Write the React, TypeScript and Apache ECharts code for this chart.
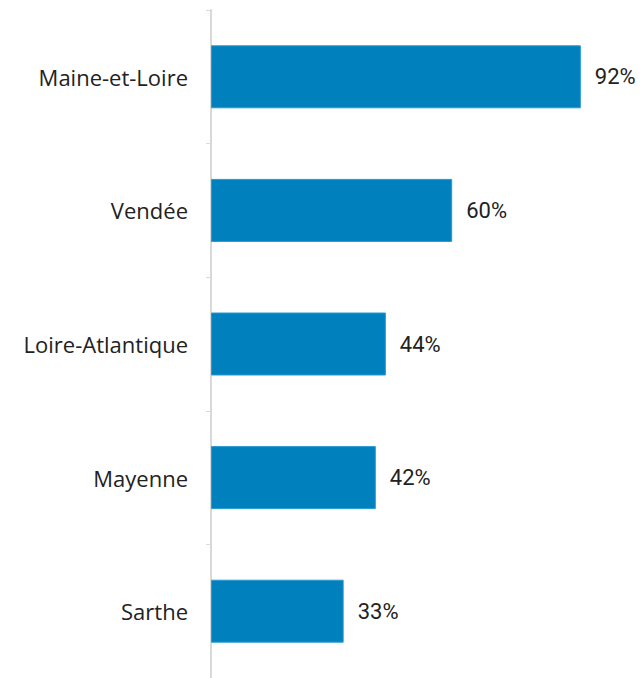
import React, { useEffect, useRef } from "react";
import * as echarts from "echarts";

const categories = ["Maine-et-Loire", "Vendée", "Loire-Atlantique", "Mayenne", "Sarthe"];
const values = [92, 60, 43.5, 41, 33];
const valueLabels = ["92%", "60%", "44%", "42%", "33%"];

export default function App() {
  const ref = useRef<HTMLDivElement>(null);
  useEffect(() => {
    const chart = echarts.init(ref.current!, null, { renderer: "svg" });
    chart.setOption({
      animation: false,
      backgroundColor: "#ffffff",
      grid: { left: 211, top: 10, width: 402, height: 670, containLabel: false },
      xAxis: {
        type: "value",
        min: 0,
        max: 100,
        show: false,
      },
      yAxis: {
        type: "category",
        data: categories,
        inverse: true,
        axisLine: { show: true, lineStyle: { color: "#d9d9d9", width: 2 } },
        axisTick: { show: true, length: 5, lineStyle: { color: "#d9d9d9", width: 1 } },
        axisLabel: {
          color: "#222222",
          fontSize: 22,
          fontFamily: "Open Sans",
          margin: 23,
        },
        splitLine: { show: false },
      },
      series: [
        {
          type: "bar",
          data: values,
          barWidth: 63,
          itemStyle: { color: "#0080bd", borderColor: "#2b9ad0", borderWidth: 1 },
          label: {
            show: true,
            position: "right",
            distance: 14,
            color: "#222222",
            fontSize: 22,
            fontFamily: "Roboto",
            formatter: (p: any) => valueLabels[p.dataIndex],
          },
        },
      ],
    });
    return () => chart.dispose();
  }, []);
  return <div ref={ref} style={{ width: 643, height: 678, position: "absolute", left: 0, top: 0 }} />;
}
